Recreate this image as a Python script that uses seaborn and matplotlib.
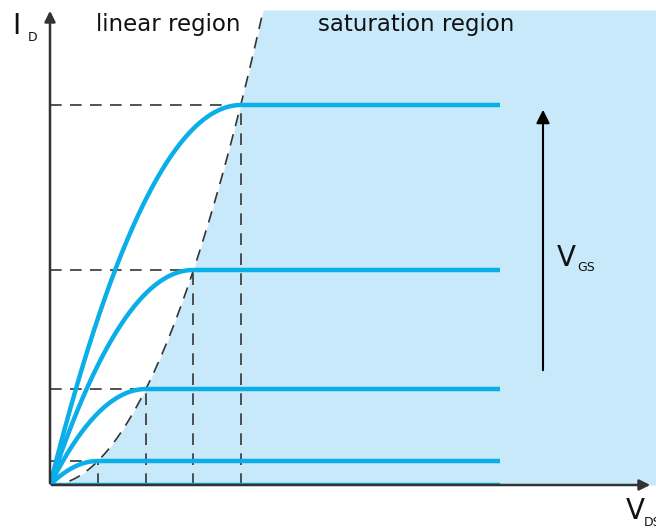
import numpy as np
import pandas as pd
import matplotlib.pyplot as plt
import seaborn as sns

# saturation points of each V_GS curve (V_DS, I_D), in drawing units
v_sat = [48, 96, 143, 191]
i_sat = [24, 96, 215, 380]
v_end = 450          # where the flat parts stop
x_max, y_max = 606, 485

sns.set_style("white")
plt.rcParams['font.family'] = ['DejaVu Sans']

fig = plt.figure(figsize=(6.56, 5.32), dpi=100)
ax = fig.add_axes([50 / 656, 47 / 532, 606 / 656, 485 / 532])
ax.set_xlim(0, x_max)
ax.set_ylim(0, y_max)
for s in ax.spines.values():
    s.set_visible(False)
ax.set_xticks([])
ax.set_yticks([])

blue = '#0aaee8'
shade = '#c8e9fa'
dash = (0, (7, 5))

# boundary parabola I = k V^2 through the saturation points
k = np.mean(np.array(i_sat) / np.array(v_sat) ** 2)
v_top = np.sqrt(475 / k)
vb = np.linspace(0, v_top, 200)
ib = k * vb ** 2
ax.fill_betweenx(np.append(ib, 475), np.append(vb, v_top), x_max, color=shade, lw=0, zorder=0)
ax.plot(vb, ib, ls=dash, color='#333333', lw=1.2, zorder=2)

# output characteristics
rows = []
for n, (vs, isat) in enumerate(zip(v_sat, i_sat)):
    for v in np.linspace(0, v_end, 400):
        i = isat * (2 * v / vs - (v / vs) ** 2) if v < vs else isat
        rows.append({'curve': n, 'V': v, 'I': i})
rows.append({'curve': -1, 'V': 0, 'I': 0})
rows.append({'curve': -1, 'V': v_end, 'I': 0})
df = pd.DataFrame(rows)
sns.lineplot(data=df, x='V', y='I', units='curve', estimator=None, color=blue,
             lw=3.2, ax=ax, zorder=4, solid_capstyle='butt')
ax.set_xlabel('')
ax.set_ylabel('')

# dashed guides to the axes
for vs, isat in zip(v_sat, i_sat):
    ax.plot([0, vs], [isat, isat], ls=dash, color='#333333', lw=1.2, zorder=3)
    ax.plot([vs, vs], [0, isat], ls=dash, color='#333333', lw=1.2, zorder=3)

# axes arrows
ax.annotate('', xy=(0, 477), xytext=(0, -1), annotation_clip=False,
            arrowprops=dict(arrowstyle='-|>', color='#333333', lw=1.8, mutation_scale=16), zorder=6)
ax.annotate('', xy=(603, 0), xytext=(-1, 0), annotation_clip=False,
            arrowprops=dict(arrowstyle='-|>', color='#333333', lw=1.8, mutation_scale=16), zorder=6)

# V_GS arrow
ax.annotate('', xy=(493, 378), xytext=(493, 112),
            arrowprops=dict(arrowstyle='-|>', color='black', lw=1.5, mutation_scale=20), zorder=6)

ax.text(46, 460, 'linear region', fontsize=16.5, ha='left', va='center', color='#111111')
ax.text(268, 460, 'saturation region', fontsize=16.5, ha='left', va='center', color='#111111')
ax.text(-38, 445, 'I', fontsize=20, ha='left', va='bottom', color='#111111')
ax.text(-22, 441, 'D', fontsize=9, ha='left', va='bottom', color='#111111')
ax.text(507, 213, 'V', fontsize=20, ha='left', va='bottom', color='#111111')
ax.text(527, 211, 'GS', fontsize=9, ha='left', va='bottom', color='#111111')
ax.text(576, -40, 'V', fontsize=20, ha='left', va='bottom', color='#111111', clip_on=False)
ax.text(594, -44, 'DS', fontsize=9, ha='left', va='bottom', color='#111111', clip_on=False)

fig.savefig('out.png', dpi=100)
